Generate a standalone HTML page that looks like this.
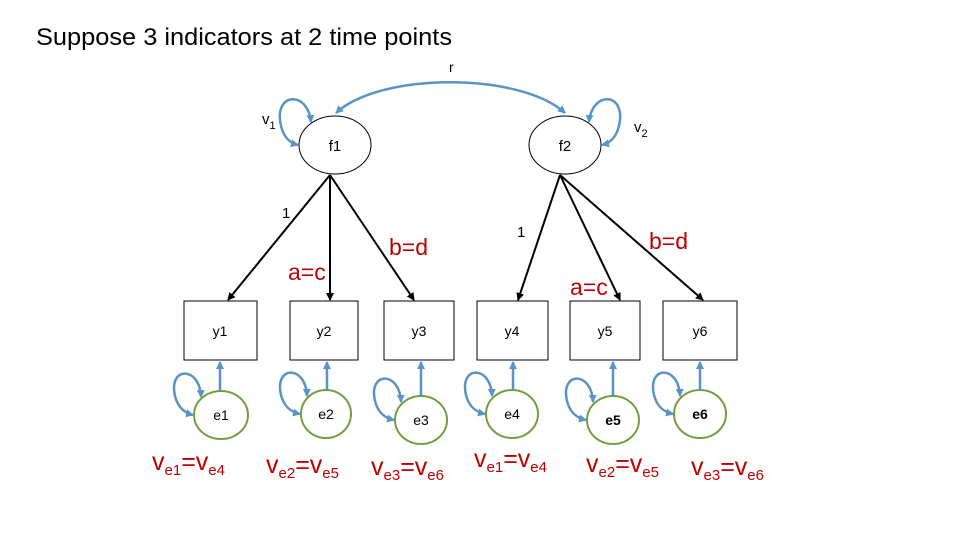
<!DOCTYPE html>
<html><head><meta charset="utf-8"><style>
html,body{margin:0;padding:0;background:#fff;}
svg{display:block;font-family:"Liberation Sans",sans-serif;}
</style></head><body>
<svg width="960" height="540" viewBox="0 0 960 540" xmlns="http://www.w3.org/2000/svg">
<defs>
<marker id="ab" markerWidth="8" markerHeight="8" refX="7" refY="4" orient="auto" markerUnits="userSpaceOnUse"><path d="M0,0 L8,4 L0,8 Z" fill="#000"/></marker>
<marker id="abl" markerWidth="8" markerHeight="8" refX="7" refY="4" orient="auto-start-reverse" markerUnits="userSpaceOnUse"><path d="M0,0 L8,4 L0,8 Z" fill="#5b93c6"/></marker>
</defs>
<text x="36" y="45" font-size="24" textLength="416" lengthAdjust="spacingAndGlyphs">Suppose 3 indicators at 2 time points</text>
<text x="449" y="72" font-size="14">r</text>
<path d="M336,113 C380,72 520,72 565,113" fill="none" stroke="#5b93c6" stroke-width="2.5" marker-start="url(#abl)" marker-end="url(#abl)"/>
<ellipse cx="335" cy="145" rx="36" ry="29" fill="#fff" stroke="#000" stroke-width="1"/>
<ellipse cx="565" cy="145" rx="36" ry="29" fill="#fff" stroke="#000" stroke-width="1"/>
<text x="335" y="151" font-size="15" text-anchor="middle">f1</text>
<text x="565" y="151" font-size="15" text-anchor="middle">f2</text>
<path d="M311,122 C308,90 273,92 281,126 C284,138 290,143 298,145" fill="none" stroke="#5b93c6" stroke-width="2.5" marker-start="url(#abl)" marker-end="url(#abl)"/>
<path d="M589,122 C592,90 627,92 619,126 C616,138 610,143 602,145" fill="none" stroke="#5b93c6" stroke-width="2.5" marker-start="url(#abl)" marker-end="url(#abl)"/>
<text x="262" y="124" font-size="15">v<tspan font-size="11" dy="5">1</tspan></text>
<text x="634" y="132" font-size="15">v<tspan font-size="11" dy="5">2</tspan></text>
<g stroke="#000" stroke-width="2" fill="none">
<line x1="330" y1="175" x2="228" y2="300" marker-end="url(#ab)"/>
<line x1="330" y1="175" x2="330" y2="300" marker-end="url(#ab)"/>
<line x1="330" y1="175" x2="414" y2="300" marker-end="url(#ab)"/>
<line x1="560" y1="175" x2="518" y2="300" marker-end="url(#ab)"/>
<line x1="560" y1="175" x2="620" y2="300" marker-end="url(#ab)"/>
<line x1="560" y1="175" x2="703" y2="300" marker-end="url(#ab)"/>
</g>
<text x="282" y="218" font-size="15">1</text>
<text x="517" y="237" font-size="15">1</text>
<g fill="#c00000" font-size="23">
<text x="288" y="280">a=c</text>
<text x="389" y="255">b=d</text>
<text x="570" y="295">a=c</text>
<text x="649" y="249">b=d</text>
</g>
<g fill="#fff" stroke="#000" stroke-width="1">
<rect x="184" y="301" width="73" height="59"/>
<rect x="290" y="301" width="68" height="59"/>
<rect x="384" y="301" width="70" height="59"/>
<rect x="477" y="301" width="71" height="59"/>
<rect x="570" y="301" width="70" height="59"/>
<rect x="663" y="301" width="74" height="59"/>
</g>
<g font-size="14" text-anchor="middle">
<text x="220" y="336">y1</text><text x="324" y="336">y2</text><text x="419" y="336">y3</text>
<text x="512" y="336">y4</text><text x="605" y="336">y5</text><text x="700" y="336">y6</text>
</g>
<g fill="#fff" stroke="#70a040" stroke-width="2">
<ellipse cx="221" cy="415" rx="27" ry="24"/>
<ellipse cx="326" cy="414" rx="25" ry="24"/>
<ellipse cx="421" cy="420" rx="26" ry="24"/>
<ellipse cx="512" cy="414" rx="26" ry="24"/>
<ellipse cx="613" cy="420" rx="26" ry="24"/>
<ellipse cx="700" cy="414" rx="26" ry="24"/>
</g>
<g stroke="#5b93c6" stroke-width="2.5" fill="none">
<line x1="220" y1="391" x2="220" y2="362" marker-end="url(#abl)"/>
<line x1="327" y1="390" x2="327" y2="362" marker-end="url(#abl)"/>
<line x1="421" y1="396" x2="421" y2="362" marker-end="url(#abl)"/>
<line x1="513" y1="390" x2="513" y2="362" marker-end="url(#abl)"/>
<line x1="613" y1="396" x2="613" y2="362" marker-end="url(#abl)"/>
<line x1="700" y1="390" x2="700" y2="362" marker-end="url(#abl)"/>
<path d="M201,397 C200,366 168,366 175,396 C178,408 185,413 193,415" marker-start="url(#abl)" marker-end="url(#abl)"/>
<path d="M307,396 C306,365 274,365 281,395 C284,407 291,412 300,414" marker-start="url(#abl)" marker-end="url(#abl)"/>
<path d="M401,402 C400,371 368,371 375,401 C378,413 385,418 394,420" marker-start="url(#abl)" marker-end="url(#abl)"/>
<path d="M492,396 C491,365 459,365 466,395 C469,407 476,412 485,414" marker-start="url(#abl)" marker-end="url(#abl)"/>
<path d="M593,402 C592,371 560,371 567,401 C570,413 577,418 586,420" marker-start="url(#abl)" marker-end="url(#abl)"/>
<path d="M680,396 C679,365 647,365 654,395 C657,407 664,412 673,414" marker-start="url(#abl)" marker-end="url(#abl)"/>
</g>
<g font-size="14" text-anchor="middle">
<text x="221" y="420">e1</text><text x="326" y="419">e2</text><text x="421" y="425">e3</text>
<text x="512" y="419">e4</text><text x="613" y="425" font-weight="bold">e5</text><text x="700" y="419" font-weight="bold">e6</text>
</g>
<g fill="#c00000" font-size="25">
<text x="152" y="470">v<tspan font-size="15" dy="5">e1</tspan><tspan dy="-5">=v</tspan><tspan font-size="15" dy="5">e4</tspan></text>
<text x="266" y="473">v<tspan font-size="15" dy="5">e2</tspan><tspan dy="-5">=v</tspan><tspan font-size="15" dy="5">e5</tspan></text>
<text x="371" y="475">v<tspan font-size="15" dy="5">e3</tspan><tspan dy="-5">=v</tspan><tspan font-size="15" dy="5">e6</tspan></text>
<text x="474" y="467">v<tspan font-size="15" dy="5">e1</tspan><tspan dy="-5">=v</tspan><tspan font-size="15" dy="5">e4</tspan></text>
<text x="586" y="472">v<tspan font-size="15" dy="5">e2</tspan><tspan dy="-5">=v</tspan><tspan font-size="15" dy="5">e5</tspan></text>
<text x="691" y="475">v<tspan font-size="15" dy="5">e3</tspan><tspan dy="-5">=v</tspan><tspan font-size="15" dy="5">e6</tspan></text>
</g>
</svg>
</body></html>
